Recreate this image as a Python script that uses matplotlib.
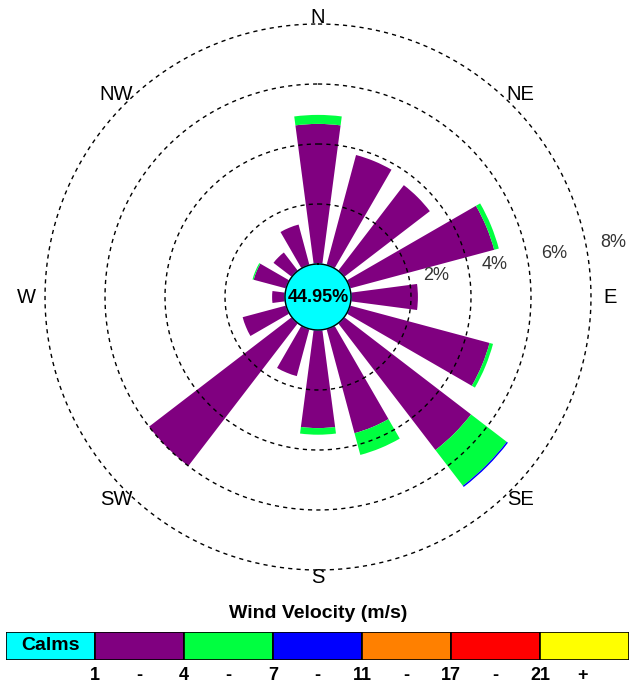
import numpy as np
import matplotlib
matplotlib.use("Agg")
import matplotlib.pyplot as plt

plt.rcParams['font.family'] = ['Liberation Sans', 'DejaVu Sans']

# wind rose data (percent of time), 16 directions clockwise from N
directions = ["N", "NNE", "NE", "ENE", "E", "ESE", "SE", "SSE",
              "S", "SSW", "SW", "WSW", "W", "WNW", "NW", "NNW"]
v1_4 = [4.67, 3.8, 3.6, 4.98, 2.23, 4.82, 5.33, 3.6,
        3.27, 1.63, 6.0, 1.5, 0.43, 1.12, 0.77, 1.4]
v4_7 = [0.3, 0.0, 0.0, 0.16, 0.0, 0.12, 1.5, 0.75,
        0.22, 0.0, 0.0, 0.0, 0.0, 0.04, 0.0, 0.0]
v7_11 = [0.0, 0.0, 0.0, 0.0, 0.0, 0.0, 0.05, 0.0,
         0.0, 0.0, 0.0, 0.0, 0.0, 0.0, 0.0, 0.0]
calms = 44.95
rings = [2, 4, 6, 8]
compass = ["N", "NE", "E", "SE", "S", "SW", "W", "NW"]

legend_colors = ["#00FFFF", "#800080", "#00FF40", "#0000FF", "#FF8000", "#FF0000", "#FFFF00"]
speed_ticks = ["1", "4", "7", "11", "17", "21"]

offset = 1.1   # radius of calm circle in percent units

fig = plt.figure(figsize=(6.3, 6.85), dpi=100)
ax = fig.add_axes([45 / 630, 115 / 685, 546 / 630, 546 / 685], projection='polar')
ax.set_theta_zero_location('N')
ax.set_theta_direction(-1)
ax.set_ylim(0, offset + 8)
ax.grid(False)
ax.set_xticks([])
ax.set_yticks([])
ax.spines['polar'].set_visible(False)

theta = np.deg2rad(np.arange(16) * 22.5)
width = np.deg2rad(15)
a = np.array(v1_4)
b = np.array(v4_7)
c = np.array(v7_11)
ax.bar(theta, a, width=width, bottom=offset, color=legend_colors[1], zorder=2)
ax.bar(theta, b, width=width, bottom=offset + a, color=legend_colors[2], zorder=2)
ax.bar(theta, c, width=width, bottom=offset + a + b, color=legend_colors[3], zorder=2)

# dashed rings
tt = np.linspace(0, 2 * np.pi, 400)
for r in rings:
    ax.plot(tt, np.full_like(tt, offset + r), ls=(0, (3, 3)), color='black', lw=1, zorder=3, clip_on=False)
    ax.text(np.deg2rad(79.5), offset + r + 0.9, f"{r}%", ha='center', va='center',
            fontsize=13, color='#333333', clip_on=False)

# calm circle
ax.fill(tt, np.full_like(tt, offset), color=legend_colors[0], zorder=4)
ax.plot(tt, np.full_like(tt, offset), color='black', lw=1, zorder=4)
ax.text(0, 0, f"{calms:.2f}%", ha='center', va='center', fontsize=13, fontweight='bold', zorder=5)

# compass labels: horizontal ones sit a little further out
label_r = [9.33, 9.53, 9.75, 9.53, 9.36, 9.53, 9.72, 9.53]
for i, lab in enumerate(compass):
    ax.text(np.deg2rad(i * 45), label_r[i], lab, ha='center', va='center', fontsize=14.5, clip_on=False)

# legend bar
lax = fig.add_axes([6 / 630, 25 / 685, 623 / 630, 28 / 685])
lax.barh(0, np.ones(7), left=np.arange(7), height=1, color=legend_colors, edgecolor='black', lw=1.2)
lax.set_xlim(0, 7)
lax.set_ylim(-0.5, 0.5)
lax.axis('off')
lax.text(0.5, 0, "Calms", ha='center', va='center', fontsize=14, fontweight='bold')
for i, t in enumerate(speed_ticks):
    lax.text(i + 1, -1.05, t, ha='center', va='center', fontsize=13, fontweight='bold')
    if i < len(speed_ticks) - 1:
        lax.text(i + 1.5, -1.05, "-", ha='center', va='center', fontsize=13, fontweight='bold')
lax.text(6.48, -1.05, "+", ha='center', va='center', fontsize=13, fontweight='bold')
fig.text(318 / 630, 1 - 613 / 685, "Wind Velocity (m/s)", ha='center', va='center', fontsize=14, fontweight='bold')

fig.savefig("out.png", dpi=100)
